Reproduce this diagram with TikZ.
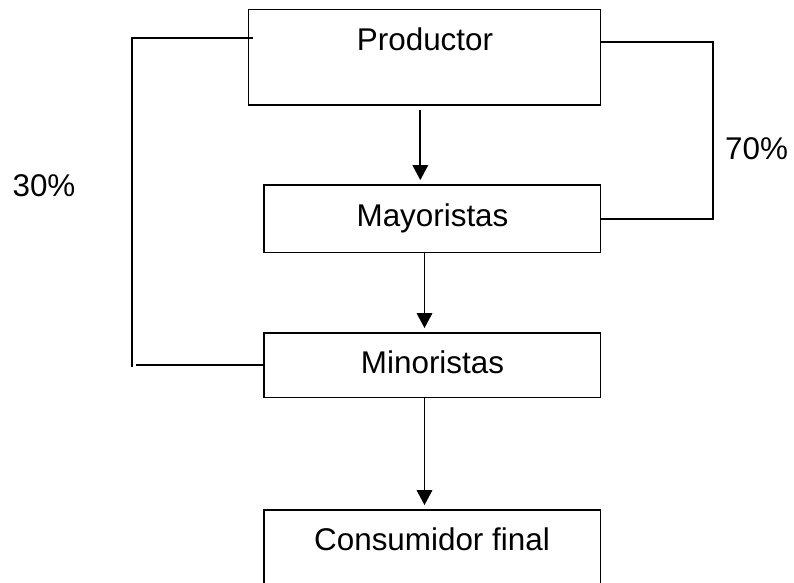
\documentclass[tikz,border=0pt]{standalone}
\usepackage{fontspec}
\setmainfont{Liberation Sans}
\usetikzlibrary{arrows.meta}
\begin{document}
\begin{tikzpicture}[x=1pt,y=-1pt,line width=1.8pt,
  box/.style={draw=black,rectangle,inner sep=0pt},
  lbl/.style={anchor=base,inner sep=0pt,font=\fontsize{31.4}{36}\selectfont},
  arr/.style={-{Triangle[width=15.5pt,length=15pt]},shorten >=4pt},
  conn/.style={draw=black}]
\useasboundingbox (0,0) rectangle (794,582);
\clip (0,0) rectangle (794,582);
% boxes
\node[box,minimum width=352pt,minimum height=95.5pt] (prod) at (424.5,57.25) {};
\node[box,minimum width=336.5pt,minimum height=67.5pt] (may) at (432.25,218.75) {};
\node[box,minimum width=336.5pt,minimum height=64.5pt] (min) at (432.25,365.25) {};
\node[box,minimum width=336.5pt,minimum height=90pt] (cons) at (432.25,555) {};
% texts
\node[lbl] (tprod) at (425,50) {Productor};
\node[lbl] (tmay) at (432.5,226) {Mayoristas};
\node[lbl] (tmin) at (432.5,373.3) {Minoristas};
\node[lbl] (tcons) at (432,550) {Consumidor final};
\node[lbl] (t30) at (44,196) {30\%};
\node[lbl] (t70) at (756.5,159.3) {70\%};
% connector coordinates
\coordinate (lstart) at (253,38);
\coordinate (lcorner) at (132,38);
\coordinate (lend) at (132,366.7);
\coordinate (lbstart) at (136,365.25);
\coordinate (rstart) at (600.5,41.7);
\coordinate (rx) at (712.7,41.7);
% side connectors
\draw[conn] (lstart) -- (lcorner) -- (lend);
\draw[conn] (lbstart) -- (min.west);
\draw[conn] (rstart) -- (rx) |- (may.east);
% arrows
\draw[arr,shorten <=4pt] ([xshift=-4.2pt]prod.south) -- ([xshift=-4.2pt]prod.south |- may.north);
\draw[arr] (prod.south |- may.south) -- (prod.south |- min.north);
\draw[arr] (prod.south |- min.south) -- (prod.south |- cons.north);
\end{tikzpicture}
\end{document}
